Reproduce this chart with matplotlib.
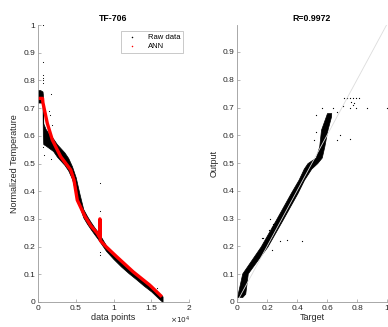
import matplotlib
matplotlib.use("Agg")
import matplotlib.pyplot as plt
import numpy as np

plt.rcParams['font.family'] = ['Liberation Sans', 'DejaVu Sans']

# ---------------- data ----------------
# Left panel: raw data band (lower / upper edge of dense black scatter)
raw_x  = [0, 300, 600, 640, 700, 1000, 1500, 2000, 2500, 3000, 3500, 4000, 4500, 5000,
          5500, 6000, 6500, 7000, 7500, 8000, 8500, 9000, 10000, 11000, 12000, 13000,
          14000, 15000, 16000, 16500]
raw_lo = [0.72, 0.72, 0.72, 0.60, 0.57, 0.565, 0.555, 0.545, 0.525, 0.51, 0.495, 0.475, 0.445, 0.395,
          0.345, 0.305, 0.282, 0.262, 0.243, 0.225, 0.205, 0.185, 0.155, 0.128, 0.104, 0.082,
          0.059, 0.038, 0.012, 0.0]
raw_hi = [0.765, 0.765, 0.76, 0.75, 0.645, 0.625, 0.605, 0.59, 0.57, 0.555, 0.54, 0.52, 0.49, 0.45,
          0.39, 0.335, 0.31, 0.288, 0.268, 0.25, 0.228, 0.205, 0.177, 0.15, 0.125, 0.103,
          0.08, 0.06, 0.032, 0.02]
# raw-data outliers
raw_out_x = [620, 650, 620, 650, 680, 700, 1680, 1500, 1550, 1800, 700, 750, 1680,
             8200, 8200, 8200, 8250, 15800]
raw_out_y = [1.0, 0.865, 0.82, 0.81, 0.80, 0.79, 0.75, 0.69, 0.675, 0.64, 0.56, 0.53, 0.516,
             0.43, 0.33, 0.17, 0.18, 0.05]

# ANN prediction (red)
ann_x = [0, 600, 650, 1230, 1900, 3000, 4330, 4770, 5200, 6200, 7000, 7800, 8150, 8200,
         8250, 9000, 10400, 12600, 14800, 16400]
ann_y = [0.735, 0.735, 0.72, 0.645, 0.585, 0.525, 0.477, 0.44, 0.368, 0.31, 0.275, 0.25, 0.235, 0.30,
         0.222, 0.2, 0.164, 0.109, 0.061, 0.019]

# Right panel: regression band (target range at given output levels)
reg_o    = [0.018, 0.03, 0.103, 0.2, 0.295, 0.392, 0.44, 0.48, 0.5, 0.52, 0.56, 0.62, 0.668, 0.68]
reg_t_lo = [0.0, 0.005, 0.035, 0.158, 0.258, 0.358, 0.41, 0.445, 0.47, 0.525, 0.548, 0.56, 0.592, 0.60]
reg_t_hi = [0.035, 0.055, 0.072, 0.203, 0.303, 0.403, 0.447, 0.495, 0.535, 0.565, 0.582, 0.603, 0.627, 0.628]
# regression outliers / top cluster
reg_out_t = [0.71, 0.73, 0.75, 0.77, 0.79, 0.81, 0.75, 0.77, 0.79, 0.76, 0.78,
             0.565, 0.527, 0.51, 0.687, 0.753, 0.664, 0.642, 0.664, 0.709, 0.864, 0.998, 0.527, 0.6,
             0.22, 0.176, 0.165, 0.287, 0.331, 0.431, 0.231, 0.231, 0.215, 0.24]
reg_out_o = [0.735, 0.735, 0.735, 0.735, 0.735, 0.735, 0.70, 0.71, 0.70, 0.72, 0.715,
             0.70, 0.674, 0.584, 0.60, 0.586, 0.584, 0.70, 0.685, 0.706, 0.70, 0.70, 0.612, 0.62,
             0.30, 0.23, 0.232, 0.22, 0.223, 0.22, 0.187, 0.27, 0.26, 0.28]

x_ticks = [0, 0.5e4, 1e4, 1.5e4, 2e4]
x_tick_labels = ['0', '0.5', '1', '1.5', '2']
y_ticks_left = [0, 0.1, 0.2, 0.3, 0.4, 0.5, 0.6, 0.7, 0.8, 0.9, 1]
y_ticks_right = [0, 0.1, 0.2, 0.3, 0.4, 0.5, 0.6, 0.7, 0.8, 0.9]
x_ticks_right = [0, 0.2, 0.4, 0.6, 0.8, 1]

# ---------------- figure ----------------
spine_c = '#9a9a9a'
text_c = '#262626'
fig = plt.figure(figsize=(3.88, 3.27), dpi=100)

def style(ax):
    for s in ['top', 'right']:
        ax.spines[s].set_visible(False)
    for s in ['left', 'bottom']:
        ax.spines[s].set_color(spine_c)
        ax.spines[s].set_linewidth(0.6)
    ax.tick_params(direction='in', length=2.5, width=0.5, color=spine_c,
                   labelsize=6, labelcolor=text_c, pad=2)

# left
ax1 = fig.add_axes([38/388, 25/327, 151/388, 277/327])
style(ax1)
ax1.fill_between(raw_x, raw_lo, raw_hi, color='black', lw=0.5, edgecolor='black')
ax1.plot(raw_out_x, raw_out_y, 'k.', ms=1.6, mew=0)
ax1.plot(ann_x, ann_y, color='red', lw=2.4, solid_capstyle='butt')
ax1.set_xlim(0, 2e4)
ax1.set_ylim(0, 1)
ax1.set_xticks(x_ticks)
ax1.set_xticklabels(x_tick_labels)
ax1.set_yticks(y_ticks_left)
ax1.set_yticklabels([f'{v:g}' for v in y_ticks_left])
ax1.set_title('TF-706', fontsize=6.3, fontweight='bold', color='black', pad=3)
ax1.set_xlabel('data points', fontsize=6.5, color=text_c, labelpad=1)
ax1.set_ylabel('Normalized Temperature', fontsize=6.5, color=text_c, labelpad=3)
h1, = ax1.plot([], [], 'k.', ms=2.2, mew=0, label='Raw data')
h2, = ax1.plot([], [], '.', color='red', ms=2.2, mew=0, label='ANN')
leg = ax1.legend(handles=[h1, h2], loc='upper right', bbox_to_anchor=(0.962, 0.978),
                 fontsize=5.5, frameon=True, fancybox=False, borderpad=0.4,
                 handlelength=2.2, handletextpad=0.9, labelspacing=0.2, borderaxespad=0)
leg.get_frame().set_edgecolor('#b0b0b0')
leg.get_frame().set_linewidth(0.6)
fig.text(170/388, 1 - 320/327, r'$\times10^{4}$', fontsize=5.3, color=text_c,
         ha='left', va='center')

# right
ax2 = fig.add_axes([237/388, 25/327, 150/388, 277/327])
style(ax2)
ax2.fill_betweenx(reg_o, reg_t_lo, reg_t_hi, color='black', lw=0.5, edgecolor='black')
ax2.plot(reg_out_t, reg_out_o, 'k.', ms=1.8, mew=0)
ax2.plot([0, 1], [0, 1], color='#dcdcdc', lw=0.6)
ax2.set_xlim(0, 1)
ax2.set_ylim(0, 0.997)
ax2.set_xticks(x_ticks_right)
ax2.set_xticklabels([f'{v:g}' for v in x_ticks_right])
ax2.set_yticks(y_ticks_right)
ax2.set_yticklabels([f'{v:g}' for v in y_ticks_right])
ax2.set_title('R=0.9972', fontsize=6.3, fontweight='bold', color='black', pad=3)
ax2.set_xlabel('Target', fontsize=6.5, color=text_c, labelpad=1)
ax2.set_ylabel('Output', fontsize=6.5, color=text_c, labelpad=3)

fig.savefig('out.png', dpi=100)
